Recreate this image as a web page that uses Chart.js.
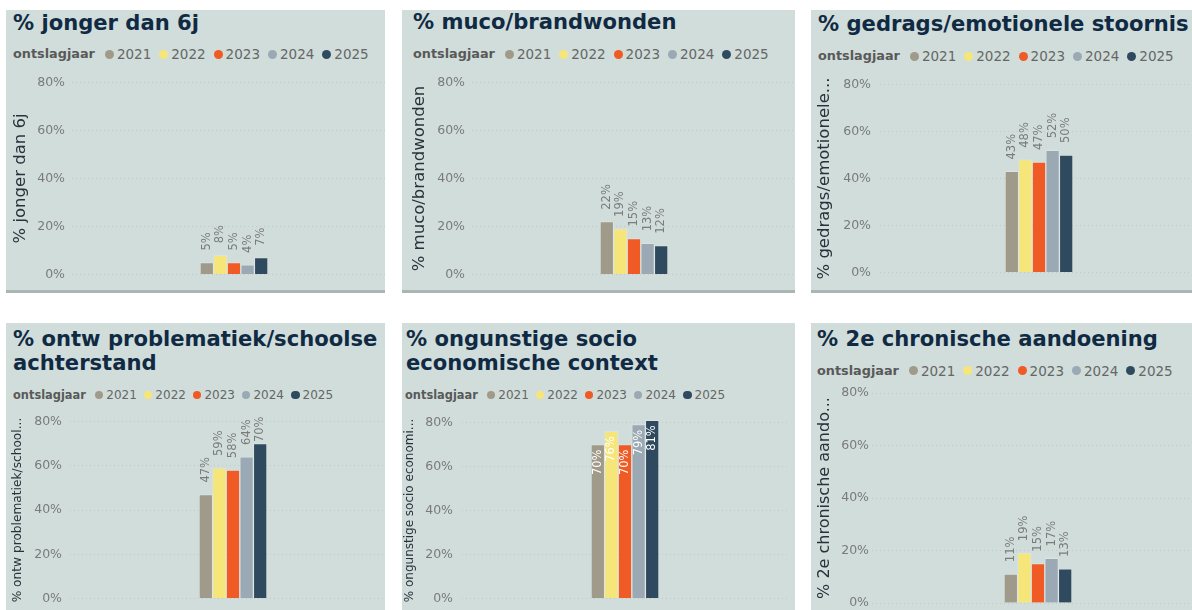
<!DOCTYPE html>
<html>
<head>
<meta charset="utf-8">
<script src="https://cdn.jsdelivr.net/npm/chart.js@4.4.1/dist/chart.umd.min.js"></script>
<style>
  html, body { margin: 0; padding: 0; width: 1192px; height: 610px; overflow: hidden; background: #fff; font-family: "DejaVu Sans", sans-serif; }
  .panel { position: absolute; background: #D0DDDA; overflow: hidden; }
  .panel.top { border-bottom: 3px solid #A9B6B4; }
  .title { position: absolute; font-weight: bold; font-size: 21.1px; line-height: 23.5px; color: #102A44; white-space: nowrap; }
  .legend { position: absolute; display: flex; align-items: center; height: 16px; line-height: 16px; color: #666; white-space: nowrap; }
  .legend b { color: #595959; font-size: 0.95em; }
  .legend .dot { border-radius: 50%; }
  .legend .item { display: flex; align-items: center; }
  canvas { position: absolute; left: 0; }
</style>
</head>
<body>
<script>
// Data
const years = ["2021", "2022", "2023", "2024", "2025"];
const yearColors = ["#A09A8A", "#F6E67A", "#F05A24", "#9AA9B4", "#2F4A5E"];
const yTicks = [0, 20, 40, 60, 80];

const jongerDan6j = [5, 8, 5, 4, 7];
const mucoBrandwonden = [22, 19, 15, 13, 12];
const gedragsEmotioneel = [43, 48, 47, 52, 50];
const ontwProblematiek = [47, 59, 58, 64, 70];
const socioEconomisch = [70, 76, 70, 79, 81];
const chronischeAandoening = [11, 19, 15, 17, 13];

Chart.defaults.font.family = '"DejaVu Sans", sans-serif';

// Panels: box = [left, top, width, height], grid = [left, y of 80%, y of 0%, right]
const panels = [
  { title: ["% jonger dan 6j"], axis: "% jonger dan 6j", values: jongerDan6j,
    box: [6, 10, 379, 280], titleAt: [13, 10.8], legendAt: [13, 54], legendSize: 13.5,
    grid: [72, 80, 277, 396], axisSize: 16.5, axisPad: 5, tickPad: 7, inside: false, top: true },
  { title: ["% muco/brandwonden"], axis: "% muco/brandwonden", values: mucoBrandwonden,
    box: [402, 10, 393, 280], titleAt: [413, 10.3], legendAt: [413, 54.3], legendSize: 13.5,
    grid: [472, 80, 277, 796], axisSize: 16.5, axisPad: 8, tickPad: 7, inside: false, top: true },
  { title: ["% gedrags/emotionele stoornis"], axis: "% gedrags/emotionele...", values: gedragsEmotioneel,
    box: [811, 10, 400, 280], titleAt: [818, 12.3], legendAt: [818, 56], legendSize: 13.5,
    grid: [880, 80, 277, 1198], axisSize: 16.5, axisPad: 4, tickPad: 9, inside: false, top: true },
  { title: ["% ontw problematiek/schoolse", "achterstand"], axis: "% ontw problematiek/school...", values: ontwProblematiek,
    box: [6, 323, 379, 300], titleAt: [13, 327.3], legendAt: [13, 395], legendSize: 12,
    grid: [70, 418, 602, 396], axisSize: 12.2, axisPad: 4.7, tickPad: 8, inside: false, top: false },
  { title: ["% ongunstige socio", "economische context"], axis: "% ongunstige socio economi...", values: socioEconomisch,
    box: [402, 323, 393, 300], titleAt: [406, 327.3], legendAt: [405, 395], legendSize: 12,
    grid: [462, 418, 603, 788], axisSize: 12, axisPad: 1, tickPad: 9, inside: true, top: false },
  { title: ["% 2e chronische aandoening"], axis: "% 2e chronische aando...", values: chronischeAandoening,
    box: [811, 323, 400, 300], titleAt: [817, 327.3], legendAt: [817, 370.7], legendSize: 13.5,
    grid: [872, 393, 603, 1204], axisSize: 16, axisPad: 4, tickPad: 3, inside: false, top: false }
];

// value labels, rotated like the original
const barLabels = {
  id: "barLabels",
  afterDatasetsDraw(chart, args, opts) {
    const ctx = chart.ctx;
    const area = chart.chartArea;
    ctx.save();
    ctx.font = '11.5px "DejaVu Sans"';
    ctx.textBaseline = "middle";
    chart.data.datasets.forEach(function (ds, i) {
      chart.getDatasetMeta(i).data.forEach(function (bar, j) {
        const text = ds.data[j] + "%";
        const w = ctx.measureText(text).width;
        ctx.save();
        if (opts.inside) {
          ctx.translate(bar.x, bar.y + 5);
          ctx.rotate(-Math.PI / 2);
          ctx.textAlign = "right";
          ctx.fillStyle = "#ffffff";
        } else {
          const start = Math.max(bar.y - 12, area.top - 5 + w);
          ctx.translate(bar.x, start);
          ctx.rotate(-Math.PI / 2);
          ctx.textAlign = "left";
          ctx.fillStyle = "#7b7b7b";
        }
        ctx.fillText(text, 0, 0);
        ctx.restore();
      });
    });
    ctx.restore();
  }
};

function place(el, x, y, p) {
  el.style.left = (x - p.box[0]) + "px";
  el.style.top = (y - p.box[1]) + "px";
}

panels.forEach(function (p) {
  const panel = document.createElement("div");
  panel.className = "panel" + (p.top ? " top" : "");
  panel.style.left = p.box[0] + "px";
  panel.style.top = p.box[1] + "px";
  panel.style.width = p.box[2] + "px";
  panel.style.height = p.box[3] + "px";
  document.body.appendChild(panel);

  const title = document.createElement("div");
  title.className = "title";
  title.innerHTML = p.title.join("<br>");
  place(title, p.titleAt[0], p.titleAt[1], p);
  panel.appendChild(title);

  // legend
  const small = p.legendSize < 13;
  const legend = document.createElement("div");
  legend.className = "legend";
  legend.style.fontSize = p.legendSize + "px";
  place(legend, p.legendAt[0], p.legendAt[1] - 8, p);
  const head = document.createElement("b");
  head.textContent = "ontslagjaar";
  head.style.marginRight = (small ? 9 : 10) + "px";
  legend.appendChild(head);
  years.forEach(function (yr, i) {
    const item = document.createElement("span");
    item.className = "item";
    item.style.marginRight = (small ? 7 : 8) + "px";
    const dot = document.createElement("span");
    dot.className = "dot";
    dot.style.width = dot.style.height = (small ? 8.5 : 9) + "px";
    dot.style.marginRight = "3px";
    dot.style.background = yearColors[i];
    item.appendChild(dot);
    item.appendChild(document.createTextNode(yr));
    legend.appendChild(item);
  });
  panel.appendChild(legend);

  // chart
  const padV = 12;
  const canvas = document.createElement("canvas");
  canvas.width = p.grid[3] - p.box[0];
  canvas.height = p.grid[2] - p.grid[1] + 2 * padV;
  canvas.style.top = (p.grid[1] - padV - p.box[1]) + "px";
  panel.appendChild(canvas);
  const axisWidth = p.grid[0] - p.box[0];

  new Chart(canvas.getContext("2d"), {
    type: "bar",
    data: {
      labels: [""],
      datasets: years.map(function (yr, i) {
        return {
          label: yr,
          data: [p.values[i]],
          backgroundColor: yearColors[i],
          borderColor: "rgba(255,255,255,0.22)",
          borderWidth: 1,
          barThickness: 13.6,
          clip: false
        };
      })
    },
    options: {
      responsive: false,
      animation: false,
      layout: { padding: { top: padV, bottom: padV, left: 0, right: 0 } },
      plugins: {
        legend: { display: false },
        tooltip: { enabled: false },
        barLabels: { inside: p.inside }
      },
      scales: {
        x: { display: false },
        y: {
          min: 0,
          max: 80,
          afterBuildTicks: function (scale) {
            scale.ticks = yTicks.map(function (v) { return { value: v }; });
          },
          afterFit: function (scale) { scale.width = axisWidth; },
          border: { display: false, dash: [1, 3] },
          grid: { color: "#C0CAC8", drawTicks: false },
          ticks: {
            padding: p.tickPad,
            color: "#7a7a7a",
            font: { size: 12.5 },
            callback: function (v) { return v + "%"; }
          },
          title: {
            display: true,
            text: p.axis,
            color: "#28323C",
            font: { size: p.axisSize },
            padding: { top: p.axisPad, bottom: 0 }
          }
        }
      }
    },
    plugins: [barLabels]
  });
});
</script>
</body>
</html>
